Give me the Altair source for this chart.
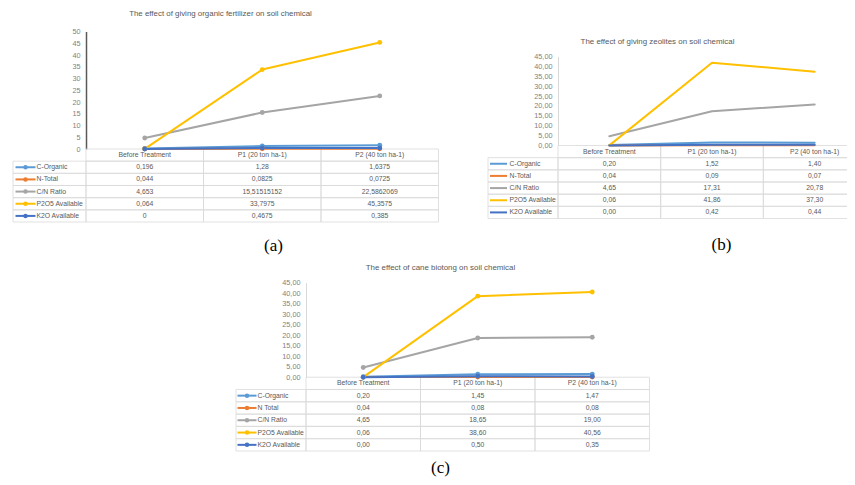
import altair as alt
import pandas as pd

# ---------------- data ----------------
CATEGORIES = ["Before Treatment", "P1 (20 ton ha-1)", "P2 (40 ton ha-1)"]
SERIES_AB = ["C-Organic", "N-Total", "C/N Ratio", "P2O5 Available", "K2O Available"]
SERIES_C = ["C-Organic", "N Total", "C/N Ratio", "P2O5 Available", "K2O Available"]
COLORS = ["#5B9BD5", "#ED7D31", "#A5A5A5", "#FFC000", "#4472C4"]

# (a) organic fertilizer
A_C_ORGANIC = [0.196, 1.28, 1.6375]
A_N_TOTAL = [0.044, 0.0825, 0.0725]
A_CN_RATIO = [4.653, 15.51515152, 22.5862069]
A_P2O5 = [0.064, 33.7975, 45.3575]
A_K2O = [0, 0.4675, 0.385]

# (b) zeolites
B_C_ORGANIC = [0.20, 1.52, 1.40]
B_N_TOTAL = [0.04, 0.09, 0.07]
B_CN_RATIO = [4.65, 17.31, 20.78]
B_P2O5 = [0.06, 41.86, 37.30]
B_K2O = [0.00, 0.42, 0.44]

# (c) cane biotong
C_C_ORGANIC = [0.20, 1.45, 1.47]
C_N_TOTAL = [0.04, 0.08, 0.08]
C_CN_RATIO = [4.65, 18.65, 19.00]
C_P2O5 = [0.06, 38.60, 40.56]
C_K2O = [0.00, 0.50, 0.35]

TICKS_A = [0, 5, 10, 15, 20, 25, 30, 35, 40, 45, 50]
TICKS_BC = [0, 5, 10, 15, 20, 25, 30, 35, 40, 45]

TITLE_A = "The effect of giving organic fertilizer on soil chemical"
TITLE_B = "The effect of giving zeolites on soil chemical"
TITLE_C = "The effect of cane biotong on soil chemical"

GRAY_TEXT = "#595959"
GRID = "#D9D9D9"


def fmt_raw(v):
    return str(v).replace(".", ",")


def fmt_2(v):
    return f"{v:.2f}".replace(".", ",")


def panel(series, values, ticks, fmt, cfg):
    rows = ["header"] + series
    recs, trecs, crecs = [], [], []
    for c in CATEGORIES:
        trecs.append({"row": "header", "cat": c, "text": c})
        crecs.append({"row": "header", "cat": c})
    for s, vals in zip(series, values):
        for c, v in zip(CATEGORIES, vals):
            recs.append({"series": s, "cat": c, "value": float(v)})
            trecs.append({"row": s, "cat": c, "text": fmt(v)})
            crecs.append({"row": s, "cat": c})
    long_df = pd.DataFrame(recs)
    text_df = pd.DataFrame(trecs)
    cell_df = pd.DataFrame(crecs)
    leg_df = pd.DataFrame({"series": series, "sym": "sym", "lbl": "lbl", "col": "legend"})

    x0, x1 = cfg["x"]
    r0, r1 = cfg["rows"]
    pitch = (r1 - r0) / len(rows)
    lr0 = r0 + pitch

    xp = alt.Scale(type="point", domain=CATEGORIES, range=[x0, x1], padding=0.5)
    xb = alt.Scale(type="band", domain=CATEGORIES, range=[x0, x1], paddingInner=0, paddingOuter=0)
    yv = alt.Scale(domain=[0, ticks[-1]], range=list(cfg["yv"]), nice=False, zero=True)
    yrb = alt.Scale(type="band", domain=rows, range=[r0, r1], paddingInner=0, paddingOuter=0)
    yrp = alt.Scale(type="point", domain=rows, range=[r0, r1], padding=0.5)
    ysb = alt.Scale(type="band", domain=series, range=[lr0, r1], paddingInner=0, paddingOuter=0)
    ysp = alt.Scale(type="point", domain=series, range=[lr0, r1], padding=0.5)
    colb = alt.Scale(type="band", domain=["legend"], range=list(cfg["legx"]), paddingInner=0, paddingOuter=0)
    ptp = alt.Scale(type="point", domain=["sym", "lbl"], range=list(cfg["legpt"]), padding=0)
    cs = alt.Scale(domain=series, range=COLORS)

    title_axis = alt.Axis(orient="top", offset=0, labels=False, ticks=False, domain=False,
                          grid=False, title=cfg["title"], titleX=cfg["title_xy"][0],
                          titleY=cfg["title_xy"][1], titleFontSize=7.9, titleFontWeight="normal",
                          titleColor=GRAY_TEXT, titleBaseline="middle", titleAlign="center",
                          titlePadding=0)
    tag_axis = alt.Axis(orient="top", offset=0, labels=False, ticks=False, domain=False,
                        grid=False, title=cfg["tag"], titleX=cfg["tag_xy"][0],
                        titleY=cfg["tag_xy"][1], titleFont="Liberation Serif", titleFontSize=17,
                        titleFontWeight="normal", titleColor="#000000", titleBaseline="middle",
                        titleAlign="center", titlePadding=0)
    yaxis_kw = dict(orient="left", offset=-x0, values=ticks, ticks=False, tickSize=0,
                    labelPadding=6, labelFontSize=7.3, labelColor="#7F7F7F", grid=False,
                    domainColor=cfg["dom_color"], domainWidth=cfg["dom_width"], title=None)
    if cfg["label_expr"]:
        yaxis_kw["labelExpr"] = cfg["label_expr"]
    y_axis = alt.Axis(**yaxis_kw)

    layers = []
    # table cells
    layers.append(alt.Chart(cell_df).mark_rect(fillOpacity=0, stroke=GRID, strokeWidth=0.8).encode(
        x=alt.X("cat:N", scale=xb, axis=tag_axis),
        y=alt.Y("row:N", scale=yrb, axis=None),
    ))
    # legend column cells
    layers.append(alt.Chart(leg_df).mark_rect(fillOpacity=0, stroke=GRID, strokeWidth=0.8).encode(
        x=alt.X("col:N", scale=colb, axis=None),
        y=alt.Y("series:N", scale=ysb, axis=None),
    ))
    # lines
    layers.append(alt.Chart(long_df).mark_line(strokeWidth=2, strokeJoin="round", strokeCap="round").encode(
        x=alt.X("cat:N", scale=xp, axis=title_axis),
        y=alt.Y("value:Q", scale=yv, axis=y_axis),
        color=alt.Color("series:N", scale=cs, legend=None),
    ))
    if cfg["dots"]:
        layers.append(alt.Chart(long_df).mark_circle(size=24, opacity=1).encode(
            x=alt.X("cat:N", scale=xp, axis=None),
            y=alt.Y("value:Q", scale=yv, axis=None),
            color=alt.Color("series:N", scale=cs, legend=None),
        ))
    # table text
    layers.append(alt.Chart(text_df).mark_text(fontSize=6.8, color=GRAY_TEXT, baseline="middle", align="center").encode(
        x=alt.X("cat:N", scale=xp, axis=None),
        y=alt.Y("row:N", scale=yrp, axis=None),
        text="text:N",
    ))
    # legend symbols
    layers.append(alt.Chart(leg_df).mark_tick(orient="horizontal", size=cfg["symlen"], thickness=2, opacity=1).encode(
        x=alt.X("sym:N", scale=ptp, axis=None),
        y=alt.Y("series:N", scale=ysp, axis=None),
        color=alt.Color("series:N", scale=cs, legend=None),
    ))
    if cfg["dots"]:
        layers.append(alt.Chart(leg_df).mark_circle(size=20, opacity=1).encode(
            x=alt.X("sym:N", scale=ptp, axis=None),
            y=alt.Y("series:N", scale=ysp, axis=None),
            color=alt.Color("series:N", scale=cs, legend=None),
        ))
    layers.append(alt.Chart(leg_df).mark_text(fontSize=6.8, color=GRAY_TEXT, baseline="middle", align="left").encode(
        x=alt.X("lbl:N", scale=ptp, axis=None),
        y=alt.Y("series:N", scale=ysp, axis=None),
        text="series:N",
    ))
    return layers


CFG_A = dict(x=(78, 430.5), yv=(141, 23.5), rows=(141, 214), legx=(5, 78), legpt=(17.5, 28.5),
             symlen=20, title=TITLE_A, title_xy=(212, 5), tag="(a)", tag_xy=(265, 237),
             dots=True, dom_color="#595959", dom_width=1.5, label_expr="")
CFG_B = dict(x=(550, 858), yv=(137.5, 48.5), rows=(137.5, 210.5), legx=(480, 550), legpt=(490.5, 501.5),
             symlen=17, title=TITLE_B, title_xy=(649, 33), tag="(b)", tag_xy=(713, 236),
             dots=False, dom_color=GRID, dom_width=1,
             label_expr="replace(format(datum.value, '.2f'), '.', ',')")
CFG_C = dict(x=(298, 641.5), yv=(369.2, 274.7), rows=(369.2, 443), legx=(228, 298), legpt=(239, 249.5),
             symlen=19, title=TITLE_C, title_xy=(432, 259), tag="(c)", tag_xy=(432, 459),
             dots=True, dom_color=GRID, dom_width=1,
             label_expr="replace(format(datum.value, '.2f'), '.', ',')")

layers = []
layers += panel(SERIES_AB, [A_C_ORGANIC, A_N_TOTAL, A_CN_RATIO, A_P2O5, A_K2O], TICKS_A, fmt_raw, CFG_A)
layers += panel(SERIES_AB, [B_C_ORGANIC, B_N_TOTAL, B_CN_RATIO, B_P2O5, B_K2O], TICKS_BC, fmt_2, CFG_B)
layers += panel(SERIES_C, [C_C_ORGANIC, C_N_TOTAL, C_CN_RATIO, C_P2O5, C_K2O], TICKS_BC, fmt_2, CFG_C)

chart = (
    alt.layer(*layers)
    .resolve_scale(x="independent", y="independent", color="independent")
    .properties(width=839, height=469, padding=0, background="white",
                autosize=alt.AutoSizeParams(type="none"))
    .configure(font="Liberation Sans")
    .configure_view(stroke="transparent")
)

chart.save("out.html", embed_options={"renderer": "svg", "actions": False})
